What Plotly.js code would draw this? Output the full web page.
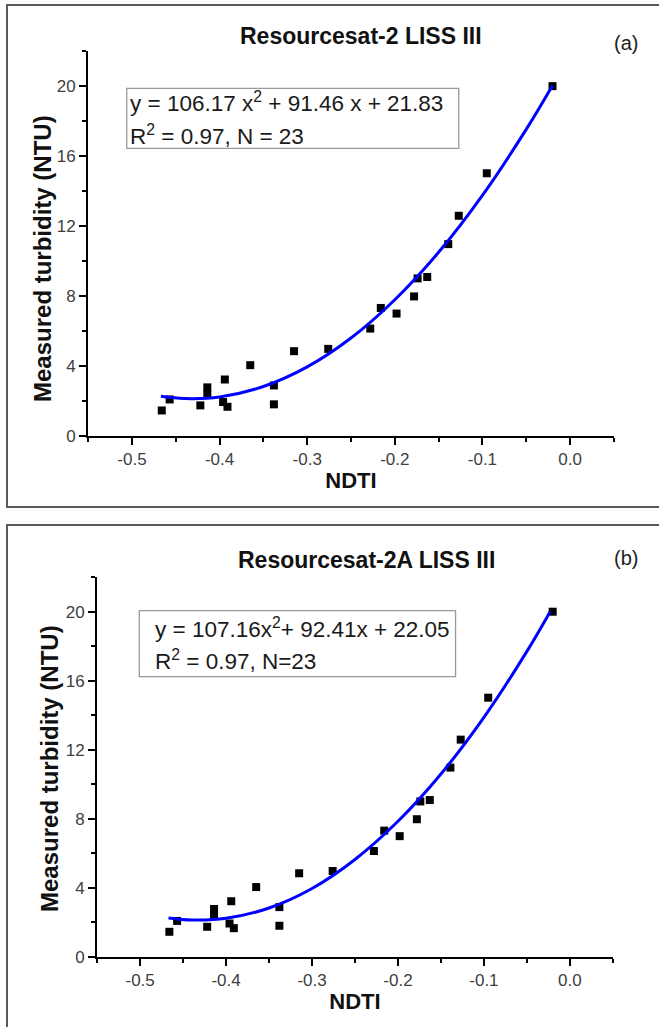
<!DOCTYPE html>
<html>
<head>
<meta charset="utf-8">
<script src="https://cdn.plot.ly/plotly-3.0.1.min.js"></script>
<style>
  html, body { margin: 0; padding: 0; background: #ffffff; }
  #chart { width: 659px; height: 1027px; }
</style>
</head>
<body>
<div id="chart"></div>
<script>
// ---- Data ----
const ndtiA = [-0.466, -0.457, -0.422, -0.414, -0.414, -0.394, -0.396, -0.391, -0.365, -0.338, -0.338,
               -0.315, -0.276, -0.228, -0.216, -0.198, -0.178, -0.174, -0.163, -0.139, -0.127, -0.095, -0.020];
const turbA = [1.46, 2.09, 1.75, 2.78, 2.40, 3.23, 1.94, 1.67, 4.05, 2.89, 1.81,
               4.85, 4.98, 6.14, 7.32, 7.00, 7.98, 9.01, 9.09, 10.97, 12.59, 15.02, 20.0];
const ndtiB = ndtiA.slice();
const turbB = turbA.slice();

// Fitted curves
const fitXA = [-0.467, -0.44, -0.40, -0.35, -0.30, -0.25, -0.20, -0.15, -0.10, -0.05, -0.020];
const fitYA = [2.27, 2.14, 2.23, 2.83, 3.95, 5.60, 7.79, 10.50, 13.75, 17.53, 20.04];
const fitXB = [-0.467, -0.44, -0.40, -0.35, -0.30, -0.25, -0.20, -0.15, -0.10, -0.05, -0.023];
const fitYB = [2.26, 2.14, 2.24, 2.84, 3.97, 5.65, 7.86, 10.60, 13.88, 17.70, 20.00];

// Tick labels
const xTickVals = [-0.5, -0.4, -0.3, -0.2, -0.1, 0.0];
const xTickText = ["-0.5", "-0.4", "-0.3", "-0.2", "-0.1", "0.0"];
const yTickVals = [0, 4, 8, 12, 16, 20];
const yTickText = ["0", "4", "8", "12", "16", "20"];

// Texts
const titleA = "Resourcesat-2 LISS III";
const titleB = "Resourcesat-2A LISS III";
const eqA1 = "y = 106.17 x<sup>2</sup> + 91.46 x + 21.83";
const eqA2 = "R<sup>2</sup> = 0.97, N = 23";
const eqB1 = "y = 107.16x<sup>2</sup>+ 92.41x + 22.05";
const eqB2 = "R<sup>2</sup> = 0.97, N=23";
const xTitle = "NDTI";
const yTitle = "Measured turbidity (NTU)";

// ---- Layout helpers ----
const W = 659, H = 1027;
const FONT = "Liberation Sans, Arial, sans-serif";
const px = v => v / W;
const py = v => 1 - v / H;

function xAxis(domain, anchor) {
  return {
    domain: domain, anchor: anchor,
    range: [-0.5502, 0.0502],
    tickmode: "array", tickvals: xTickVals, ticktext: xTickText,
    ticks: "outside", ticklen: 7, tickwidth: 2, tickcolor: "#000",
    showline: true, linewidth: 2, linecolor: "#000",
    showgrid: false, zeroline: false,
    tickfont: { family: FONT, size: 17, color: "#404040" },
    minor: { dtick: 0.05, tick0: -0.55, ticks: "outside", ticklen: 4, tickwidth: 2, tickcolor: "#000", showgrid: false },
    title: { text: xTitle, standoff: 4, font: { family: FONT, size: 22, color: "#111", weight: "bold" } },
    fixedrange: true
  };
}
function yAxis(domain, anchor) {
  return {
    domain: domain, anchor: anchor,
    range: [0, 22.01],
    tickmode: "array", tickvals: yTickVals, ticktext: yTickText,
    ticks: "outside", ticklen: 7, tickwidth: 2, tickcolor: "#000",
    showline: true, linewidth: 2, linecolor: "#000",
    showgrid: false, zeroline: false,
    tickfont: { family: FONT, size: 17, color: "#404040" },
    minor: { dtick: 2, tick0: 0, ticks: "outside", ticklen: 4, tickwidth: 2, tickcolor: "#000", showgrid: false },
    fixedrange: true
  };
}

const traces = [
  { x: ndtiA, y: turbA, xaxis: "x", yaxis: "y", type: "scatter", mode: "markers",
    marker: { symbol: "square", size: 8, color: "#000" }, hoverinfo: "skip" },
  { x: fitXA, y: fitYA, xaxis: "x", yaxis: "y", type: "scatter", mode: "lines",
    line: { color: "#0000ff", width: 3, shape: "spline" }, hoverinfo: "skip" },
  { x: ndtiB, y: turbB, xaxis: "x2", yaxis: "y2", type: "scatter", mode: "markers",
    marker: { symbol: "square", size: 8, color: "#000" }, hoverinfo: "skip" },
  { x: fitXB, y: fitYB, xaxis: "x2", yaxis: "y2", type: "scatter", mode: "lines",
    line: { color: "#0000ff", width: 3, shape: "spline" }, hoverinfo: "skip" }
];

const eqFont = { family: FONT, size: 22.5, color: "#1a1a1a" };
const titleFont = { family: FONT, size: 23, color: "#111", weight: "bold" };
const yTitleFont = { family: FONT, size: 24, color: "#111", weight: "bold" };
const tagFont = { family: FONT, size: 20, color: "#222" };

const layout = {
  width: W, height: H,
  margin: { l: 0, r: 0, t: 0, b: 0 },
  paper_bgcolor: "#ffffff", plot_bgcolor: "rgba(0,0,0,0)",
  showlegend: false,
  xaxis: xAxis([px(88), px(614)], "y"),
  yaxis: yAxis([py(436), py(51)], "x"),
  xaxis2: xAxis([px(97), px(613)], "y2"),
  yaxis2: yAxis([py(957), py(577)], "x2"),
  shapes: [
    // panel borders
    { type: "rect", xref: "paper", yref: "paper", x0: px(7), x1: px(668), y0: py(507), y1: py(5),
      line: { color: "#5a5a5a", width: 2 }, layer: "below" },
    { type: "rect", xref: "paper", yref: "paper", x0: px(7), x1: px(668), y0: py(1040), y1: py(525),
      line: { color: "#5a5a5a", width: 2 }, layer: "below" },
    // equation boxes
    { type: "rect", xref: "x", yref: "y", x0: -0.506, x1: -0.127, y0: 16.44, y1: 19.87,
      line: { color: "#9a9a9a", width: 1.3 }, layer: "below" },
    { type: "rect", xref: "x2", yref: "y2", x0: -0.501, x1: -0.133, y0: 16.24, y1: 20.06,
      line: { color: "#9a9a9a", width: 1.3 }, layer: "below" }
  ],
  annotations: [
    { xref: "paper", yref: "paper", x: px(361), y: py(36), text: titleA, showarrow: false,
      xanchor: "center", yanchor: "middle", font: titleFont },
    { xref: "paper", yref: "paper", x: px(366), y: py(560), text: titleB, showarrow: false,
      xanchor: "center", yanchor: "middle", font: titleFont },
    { xref: "paper", yref: "paper", x: px(626), y: py(43), text: "(a)", showarrow: false,
      xanchor: "center", yanchor: "middle", font: tagFont },
    { xref: "paper", yref: "paper", x: px(626), y: py(558), text: "(b)", showarrow: false,
      xanchor: "center", yanchor: "middle", font: tagFont },
    // y-axis titles
    { xref: "paper", yref: "paper", x: px(42), y: py(259), text: yTitle, showarrow: false, textangle: -90,
      xanchor: "center", yanchor: "middle", font: yTitleFont },
    { xref: "paper", yref: "paper", x: px(49), y: py(769), text: yTitle, showarrow: false, textangle: -90,
      xanchor: "center", yanchor: "middle", font: yTitleFont },
    // equations
    { xref: "x", yref: "y", x: -0.505, y: 19.1, text: eqA1, showarrow: false,
      xanchor: "left", yanchor: "middle", font: eqFont },
    { xref: "x", yref: "y", x: -0.505, y: 17.2, text: eqA2, showarrow: false,
      xanchor: "left", yanchor: "middle", font: eqFont },
    { xref: "x2", yref: "y2", x: -0.485, y: 19.04, text: eqB1, showarrow: false,
      xanchor: "left", yanchor: "middle", font: eqFont },
    { xref: "x2", yref: "y2", x: -0.485, y: 17.2, text: eqB2, showarrow: false,
      xanchor: "left", yanchor: "middle", font: eqFont }
  ]
};

Plotly.newPlot("chart", traces, layout, { displayModeBar: false, staticPlot: true });
</script>
</body>
</html>
